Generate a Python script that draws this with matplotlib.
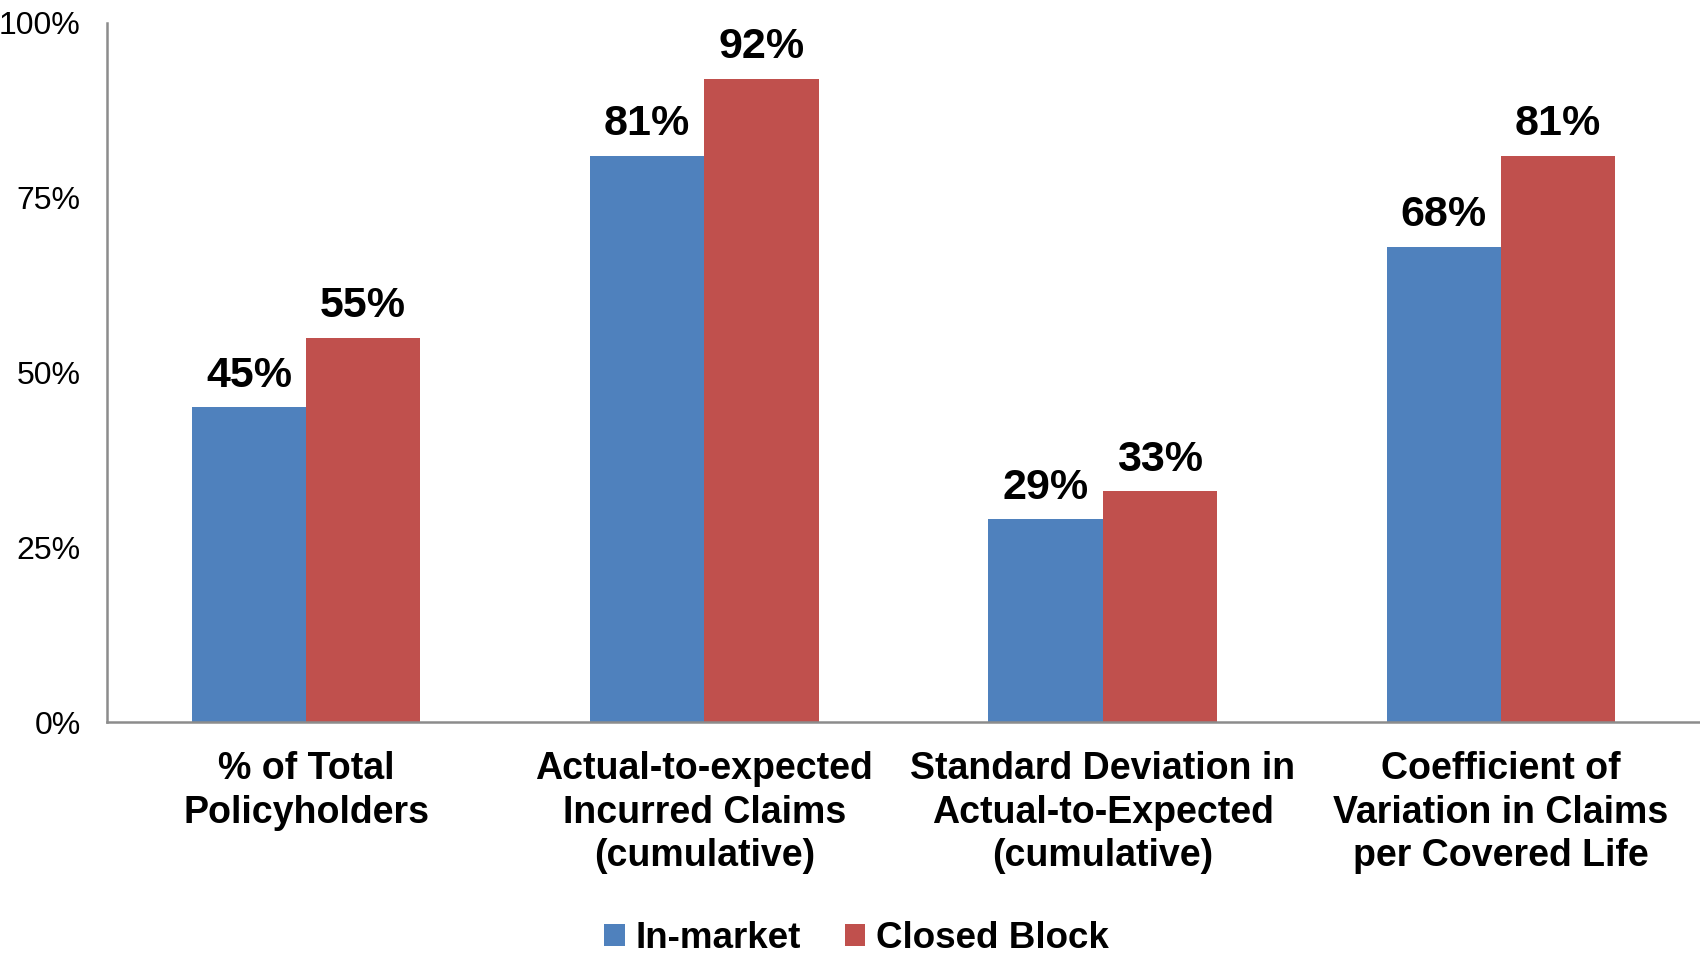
import matplotlib
matplotlib.use("Agg")
import matplotlib.pyplot as plt
import numpy as np

categories = [
    "% of Total\nPolicyholders",
    "Actual-to-expected\nIncurred Claims\n(cumulative)",
    "Standard Deviation in\nActual-to-Expected\n(cumulative)",
    "Coefficient of\nVariation in Claims\nper Covered Life",
]
in_market = [45, 81, 29, 68]
closed_block = [55, 92, 33, 81]
series_names = ["In-market", "Closed Block"]
y_ticks = [0, 25, 50, 75, 100]
y_tick_labels = ["0%", "25%", "50%", "75%", "100%"]

plt.rcParams["font.family"] = ["Liberation Sans", "DejaVu Sans"]

fig = plt.figure(figsize=(17, 9.58), dpi=100)
ax = fig.add_axes([0.0629, 0.2463, 0.9371, 0.7297])

x = np.arange(len(categories))
w = 0.287
blue = "#4F81BD"
red = "#C0504D"
b1 = ax.bar(x - w / 2, in_market, w, color=blue, label=series_names[0])
b2 = ax.bar(x + w / 2, closed_block, w, color=red, label=series_names[1])

for bars, vals in ((b1, in_market), (b2, closed_block)):
    ax.bar_label(bars, labels=[f"{v}%" for v in vals], padding=8.5,
                 fontsize=31, fontweight="bold")

ax.set_xlim(-0.5, 3.5)
ax.set_ylim(0, 100)
ax.set_yticks(y_ticks)
ax.set_yticklabels(y_tick_labels, fontsize=23)
ax.set_xticks(x)
ax.set_xticklabels(categories, fontsize=27, fontweight="bold", linespacing=1.27)
ax.tick_params(axis="y", length=0, pad=19)
ax.tick_params(axis="x", length=0, pad=21)

for s in ("top", "right"):
    ax.spines[s].set_visible(False)
for s in ("left", "bottom"):
    ax.spines[s].set_color("#8C8C8C")
    ax.spines[s].set_linewidth(1.8)

fig.legend(handles=[b1, b2], labels=series_names, loc="center",
           bbox_to_anchor=(0.504, 0.02), ncol=2, frameon=False,
           prop={"size": 26.5, "weight": "bold"}, handlelength=0.55,
           handleheight=0.55, handletextpad=0.3, columnspacing=1.2)

fig.savefig("out.png", dpi=100)
